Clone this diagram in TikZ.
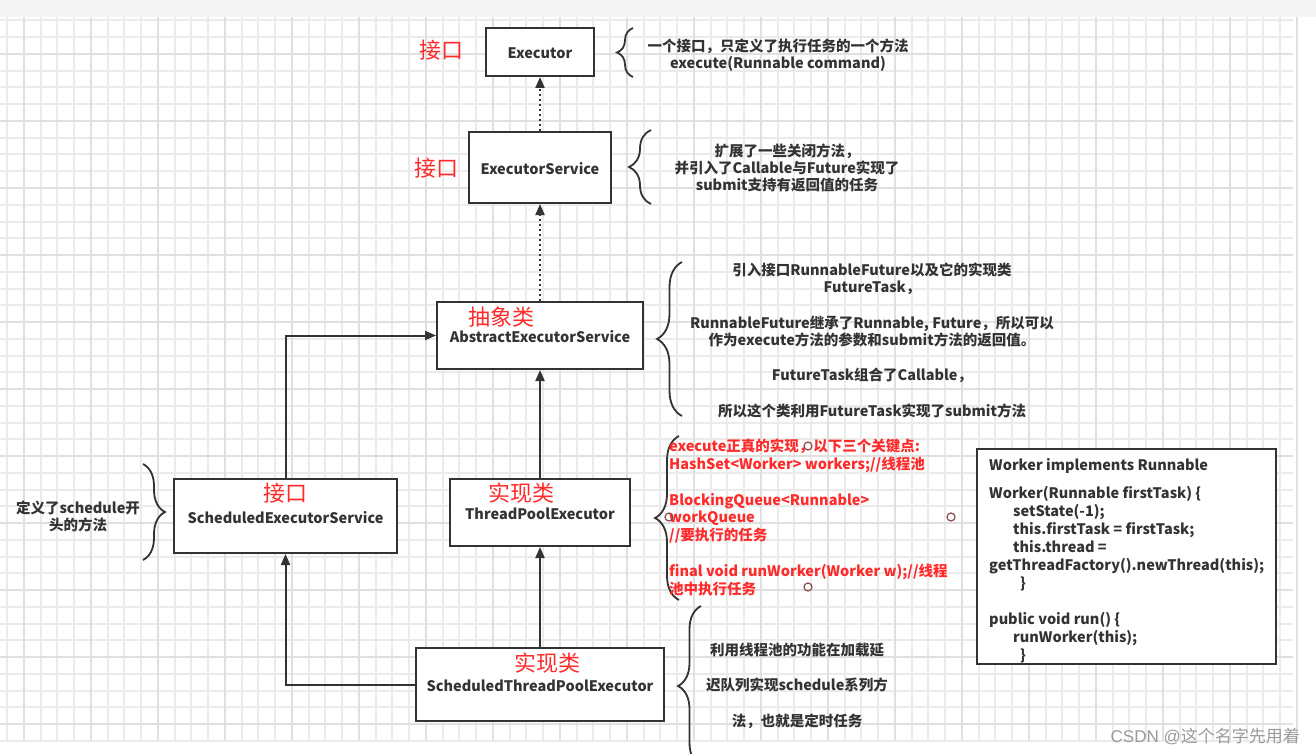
\documentclass[tikz,border=0pt]{standalone}
\usepackage{fontspec}
\setmainfont{Noto Sans CJK SC}
\newfontfamily\wmlatin{Liberation Sans}
\usetikzlibrary{arrows.meta,decorations.pathreplacing}
\definecolor{ink}{HTML}{333333}
\definecolor{redc}{HTML}{FF2A2A}
\definecolor{gridminor}{HTML}{EBEBEB}
\definecolor{gridmajor}{HTML}{E0E0E0}
\definecolor{bandc}{HTML}{F5F5F5}
\definecolor{circc}{HTML}{8B4A4A}
\definecolor{wmc}{HTML}{9A9A9A}
\begin{document}
\begin{tikzpicture}[x=1pt,y=-1pt,
  box/.style={draw=ink,line width=2pt,fill=white,inner sep=0pt,align=center,
    text height=14pt,text depth=0pt,
    font=\bfseries\fontsize{14.5}{17}\selectfont,text=ink},
  tag/.style={text=redc,font=\fontsize{22}{24}\selectfont,inner sep=0pt},
  conn/.style={draw=ink,line width=2pt,-{Triangle[length=11pt,width=9pt]}},
  dotconn/.style={conn,dash pattern=on 2pt off 3pt},
  note/.style={text=ink,font=\bfseries\fontsize{14.5}{17}\selectfont,inner sep=0pt,align=center},
  rednote/.style={text=redc,font=\bfseries\fontsize{14.5}{17.9}\selectfont,inner sep=0pt,align=left},
  brc/.style={draw=ink,line width=1.8pt,decorate,decoration={brace,amplitude=#1}},
  circ/.style={circle,draw=circc,line width=1.2pt,minimum size=8pt,inner sep=0pt},
  gline/.style={draw=gridminor,line width=2pt},
  gmaj/.style={draw=gridmajor,line width=2.2pt}
]
\useasboundingbox (0,0) rectangle (1316,754);
\clip (0,0) rectangle (1316,754);
\fill[white] (0,0) rectangle (1316,754);
\fill[bandc] (0,0) rectangle (1316,17);
% grid
\foreach \i in {0,...,77} {\draw[gline] ({7+16.75*\i},17) -- ({7+16.75*\i},740);}
\foreach \j in {0,...,43} {\draw[gline] (0,{20.5+16.75*\j}) -- (1293,{20.5+16.75*\j});}
\foreach \i in {1,5,...,77} {\draw[gmaj] ({7+16.75*\i},17) -- ({7+16.75*\i},740);}
\foreach \j in {2,6,...,43} {\draw[gmaj] (0,{20.5+16.75*\j}) -- (1293,{20.5+16.75*\j});}

% boxes
\node[box,minimum width=108pt,minimum height=48pt] (exec) at (540,52) {Executor};
\node[box,minimum width=142pt,minimum height=71pt] (es) at (540,167.5) {ExecutorService};
\node[box,minimum width=206pt,minimum height=67pt] (aes) at (540,335.5) {AbstractExecutorService};
\node[box,minimum width=223pt,minimum height=74pt] (ses) at (285.5,516) {ScheduledExecutorService};
\node[box,minimum width=180pt,minimum height=67pt] (tpe) at (540,512.5) {ThreadPoolExecutor};
\node[box,minimum width=248pt,minimum height=73pt] (stpe) at (540,684.5) {ScheduledThreadPoolExecutor};
\node[box,minimum width=299pt,minimum height=215pt] (worker) at (1126.5,556.5) {};

% connectors
\draw[dotconn] (es.north) -- (exec.south);
\draw[dotconn] (aes.north) -- (es.south);
\draw[conn] (tpe.north) -- (aes.south);
\draw[conn] (ses.north) |- (aes.west);
\draw[conn] (stpe.north) -- (tpe.south);
\draw[conn] (stpe.west) -| (ses.south);

% red tags
\node[tag] (t1) at (441,50) {接口};
\node[tag] (t2) at (436,168) {接口};
\node[tag] (t3) at (501,317) {抽象类};
\node[tag] (t4) at (285,493) {接口};
\node[tag] (t5) at (521,493) {实现类};
\node[tag] (t6) at (547,663) {实现类};

% braces
\draw[brc=16pt] (633,77) -- (633,28);
\draw[brc=22pt] (651,204) -- (651,130);
\draw[brc=25pt] (682,416) -- (682,262);
\draw[brc=24pt] (679,600) -- (679,436);
\draw[brc=22pt] (143,464) -- (143,560);
\draw[brc=23pt] (701,766) -- (701,606);

% notes
\node[note,anchor=north] (n1) at (778,38.5) {一个接口，只定义了执行任务的一个方法\\execute(Runnable command)};
\node[note,anchor=north] (n2) at (787,143.5) {扩展了一些关闭方法，\\并引入了Callable与Future实现了\\submit支持有返回值的任务};
\node[note,anchor=north,font=\bfseries\fontsize{14.5}{17.6}\selectfont] (n3) at (872,262.5) {引入接口RunnableFuture以及它的实现类\\FutureTask，\\[17.6pt]RunnableFuture继承了Runnable, Future，所以可以\\作为execute方法的参数和submit方法的返回值。\\[17.6pt]FutureTask组合了Callable，\\[17.6pt]所以这个类利用FutureTask实现了submit方法};
\node[rednote,anchor=north west] (n4) at (669,438.5) {execute正真的实现，以下三个关键点:\\HashSet<Worker> workers;//线程池\\[17.9pt]BlockingQueue<Runnable>\\workQueue\\//要执行的任务\\[17.9pt]final void runWorker(Worker w);//线程\\池中执行任务};
\node[note,anchor=north] (n5) at (78,500.5) {定义了schedule开\\头的方法};
\node[note,anchor=north,font=\bfseries\fontsize{14.5}{35.5}\selectfont] (n6) at (797,642.5) {利用线程池的功能在加载延\\迟队列实现schedule系列方\\法，也就是定时任务};
\node[note,anchor=north west,align=left,font=\bfseries\fontsize{14.5}{18}\selectfont] (wt) at (989,458.5) {Worker implements Runnable\\[10pt]Worker(Runnable firstTask) \{\\\hspace*{24pt}setState(-1);\\\hspace*{24pt}this.firstTask = firstTask;\\\hspace*{24pt}this.thread =\\getThreadFactory().newThread(this);\\\hspace*{31pt}\}\\[18pt]public void run() \{\\\hspace*{24pt}runWorker(this);\\\hspace*{31pt}\}};

% small circles
\node[circ] (c1) at (808,446) {};
\node[circ] (c2) at (669,517) {};
\node[circ] (c3) at (951,517) {};
\node[circ] (c4) at (808,587) {};

% watermark
\node[anchor=east,text=wmc,inner sep=0pt,font=\fontsize{17}{20}\selectfont] (wm) at (1300,736) {{\wmlatin CSDN @}这个名字先用着};
\end{tikzpicture}
\end{document}
